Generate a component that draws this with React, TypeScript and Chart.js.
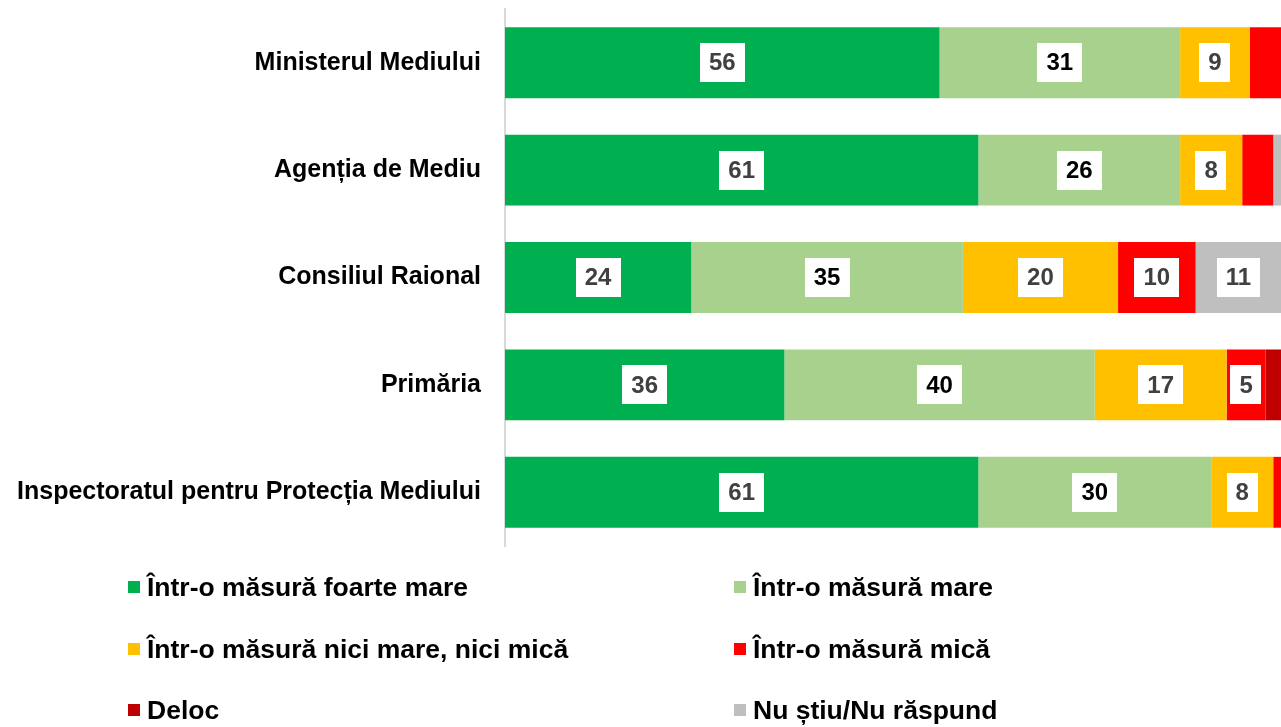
import React, { useEffect, useRef } from "react";
import { Chart, registerables } from "chart.js";

Chart.register(...registerables);

const categories = [
  "Ministerul Mediului",
  "Agenția de Mediu",
  "Consiliul Raional",
  "Primăria",
  "Inspectoratul pentru Protecția Mediului",
];

const seriesNames = [
  "Într-o măsură foarte mare",
  "Într-o măsură mare",
  "Într-o măsură nici mare, nici mică",
  "Într-o măsură mică",
  "Deloc",
  "Nu știu/Nu răspund",
];

const foarteMare = [56, 61, 24, 36, 61];
const mare = [31, 26, 35, 40, 30];
const niciMareNiciMica = [9, 8, 20, 17, 8];
const mica = [4, 4, 10, 5, 1];
const deloc = [0, 0, 0, 2, 0];
const nuStiu = [0, 1, 11, 0, 0];

const seriesValues = [foarteMare, mare, niciMareNiciMica, mica, deloc, nuStiu];
const seriesColors = ["#00B050", "#A9D18E", "#FFC000", "#FF0000", "#C00000", "#BFBFBF"];
const labelColors = ["#404040", "#000000", "#404040", "#404040", "#404040", "#404040"];

const FONT = "'Liberation Sans', Arial, Helvetica, sans-serif";

const labelPlugin = {
  id: "boxLabels",
  afterDatasetsDraw(chart: any) {
    const ctx = chart.ctx;
    ctx.save();
    ctx.font = `bold 24px ${FONT}`;
    ctx.textAlign = "center";
    ctx.textBaseline = "middle";
    chart.data.datasets.forEach((ds: any, di: number) => {
      const meta = chart.getDatasetMeta(di);
      meta.data.forEach((el: any, i: number) => {
        const v = ds.data[i];
        if (v < 5) return;
        const cx = (el.x + el.base) / 2;
        const cy = el.y;
        const txt = String(v);
        const w = ctx.measureText(txt).width + 18;
        const h = 39;
        ctx.fillStyle = "#FFFFFF";
        ctx.fillRect(Math.round(cx - w / 2), Math.round(cy - h / 2), Math.round(w), h);
        ctx.fillStyle = labelColors[di];
        ctx.fillText(txt, cx, cy + 1);
      });
    });
    ctx.restore();
  },
};

export default function App() {
  const ref = useRef<HTMLCanvasElement>(null);

  useEffect(() => {
    if (!ref.current) return;
    const chart = new Chart(ref.current, {
      type: "bar",
      data: {
        labels: categories,
        datasets: seriesNames.map((name, i) => ({
          label: name,
          data: seriesValues[i],
          backgroundColor: seriesColors[i],
          borderWidth: 0,
          categoryPercentage: 1,
          barPercentage: 0.66,
        })),
      },
      options: {
        indexAxis: "y",
        responsive: false,
        animation: false,
        layout: { padding: { top: 9, bottom: 181, left: 0, right: 0 } },
        plugins: {
          legend: { display: false },
          tooltip: { enabled: false },
        },
        scales: {
          x: {
            stacked: true,
            min: 0,
            max: 100,
            display: false,
          },
          y: {
            stacked: true,
            grid: { display: false, drawTicks: false },
            border: { display: true, color: "#D9D9D9", width: 2 },
            ticks: {
              padding: 24,
              color: "#000000",
              font: { family: FONT, size: 25, weight: "bold" },
            },
            afterFit(scale: any) {
              scale.width = 505;
              scale.paddingTop = 0;
              scale.paddingBottom = 0;
            },
          },
        },
      },
      plugins: [labelPlugin],
    } as any);
    return () => chart.destroy();
  }, []);

  const legendPos = [
    { x: 128, y: 587 },
    { x: 734, y: 587 },
    { x: 128, y: 649 },
    { x: 734, y: 649 },
    { x: 128, y: 710 },
    { x: 734, y: 710 },
  ];

  return (
    <div style={{ position: "absolute", left: 0, top: 0, width: 1281, height: 727, background: "#fff", overflow: "hidden" }}>
      <canvas ref={ref} width={1281} height={727} style={{ display: "block" }} />
      {seriesNames.map((name, i) => (
        <div
          key={name}
          style={{
            position: "absolute",
            left: legendPos[i].x,
            top: legendPos[i].y - 17,
            height: 34,
            display: "flex",
            alignItems: "center",
            fontFamily: FONT,
            fontWeight: "bold",
            fontSize: 26.5,
            color: "#000",
            whiteSpace: "nowrap",
          }}
        >
          <span style={{ display: "inline-block", width: 12, height: 12, background: seriesColors[i], marginRight: 7 }} />
          <span>{name}</span>
        </div>
      ))}
    </div>
  );
}
